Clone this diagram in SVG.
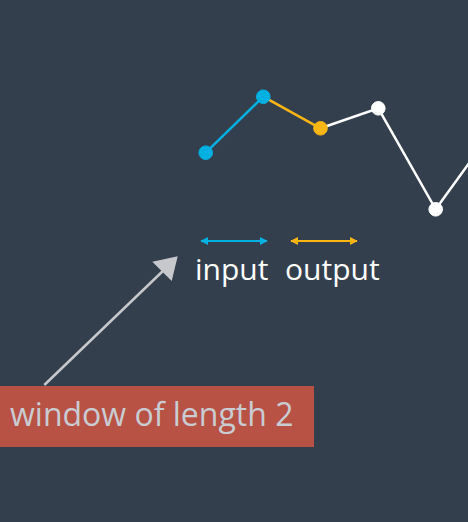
<svg xmlns="http://www.w3.org/2000/svg" width="468" height="522" viewBox="0 0 468 522">
<style>
.t{font-family:"Open Sans","Noto Sans","DejaVu Sans",sans-serif;}
.blue{stroke:#02b0e2;fill:#02b0e2;}
.yel{stroke:#fcb614;fill:#fcb614;}
.wht{stroke:#ffffff;fill:#ffffff;}
.ln{fill:none;stroke-width:2.5;}
</style>
<defs>
<marker id="ab" viewBox="0 0 10 10" refX="9" refY="5" markerWidth="4" markerHeight="4" orient="auto-start-reverse"><path d="M0,0 L10,5 L0,10 z" fill="#02b0e2"/></marker>
<marker id="ay" viewBox="0 0 10 10" refX="9" refY="5" markerWidth="4" markerHeight="4" orient="auto-start-reverse"><path d="M0,0 L10,5 L0,10 z" fill="#fcb614"/></marker>
</defs>
<rect width="468" height="522" fill="#333f4d"/>
<g id="connectors">
<polyline points="320.5,128.3 378.3,108.3 435.7,209.3 493,130" class="ln" stroke="#ffffff"/>
<line x1="205.7" y1="152.7" x2="263.3" y2="96.7" class="ln" stroke="#02b0e2"/>
<line x1="263.3" y1="96.7" x2="320.5" y2="128.3" class="ln" stroke="#fcb614"/>
<line x1="201" y1="241" x2="267" y2="241" stroke="#02b0e2" stroke-width="2" marker-start="url(#ab)" marker-end="url(#ab)"/>
<line x1="291" y1="241" x2="357" y2="241" stroke="#fcb614" stroke-width="2" marker-start="url(#ay)" marker-end="url(#ay)"/>
<line x1="44.3" y1="385" x2="166" y2="268" stroke="#c6c8cb" stroke-width="2.5"/>
<polygon points="177.7,256.2 152.3,261.7 171.7,281" fill="#c6c8cb"/>
</g>
<g id="points">
<circle cx="205.7" cy="152.7" r="6.8" class="blue"/>
<circle cx="263.3" cy="96.7" r="6.8" class="blue"/>
<circle cx="320.5" cy="128.3" r="6.8" class="yel"/>
<circle cx="378.3" cy="108.3" r="6.8" class="wht"/>
<circle cx="435.7" cy="209.3" r="6.8" class="wht"/>
</g>
<g id="labels">
<text x="195" y="280" class="t" font-size="30" fill="#ffffff">input</text>
<text x="285" y="280" class="t" font-size="30" fill="#ffffff">output</text>
</g>
<g id="window">
<rect x="0" y="386" width="314" height="61" fill="#b85245"/>
<text x="10" y="426" class="t" font-size="32" fill="#c9ccd2">window of length 2</text>
</g>
</svg>
